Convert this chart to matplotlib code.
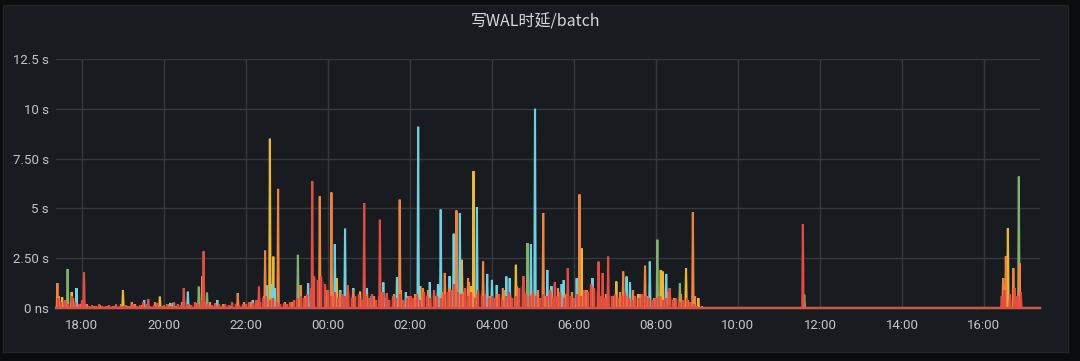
import matplotlib
matplotlib.use("Agg")
import matplotlib.pyplot as plt
from matplotlib.patches import Rectangle
import numpy as np

plt.rcParams['font.family'] = ['Roboto', 'Noto Sans CJK SC', 'DejaVu Sans']

TITLE = "写WAL时延/batch"
WINDOW_START = "17:22"   # window is 24 h long
Y_TICKS = [0, 2.5, 5, 7.5, 10, 12.5]
Y_TICK_LABELS = ["0 ns", "2.50 s", "5 s", "7.50 s", "10 s", "12.5 s"]

# spikes per series: (time, seconds)
green_spikes = [("17:39", 1.95), ("20:51", 1.07), ("21:03", 0.77), ("23:16", 2.67),
                ("04:52", 3.26), ("06:19", 0.9), ("08:02", 3.43), ("08:35", 1.24),
                ("11:37", 0.67), ("16:51", 6.6)]
yellow_spikes = [("17:31", 0.55), ("17:45", 0.8), ("19:00", 0.9), ("19:54", 0.57),
                 ("22:35", 8.5), ("22:40", 2.58), ("00:13", 1.5), ("00:47", 0.82),
                 ("02:15", 1.1), ("03:16", 2.42), ("03:29", 1.1), ("03:33", 6.87),
                 ("04:35", 2.17), ("06:11", 3.0), ("07:02", 1.33), ("07:34", 0.7),
                 ("08:07", 1.91), ("08:10", 1.83), ("08:44", 2.0), ("09:02", 0.5),
                 ("16:35", 4.0)]
cyan_spikes = [("17:52", 1.0), ("19:31", 0.4), ("20:09", 0.25), ("20:13", 0.25),
               ("20:35", 0.82), ("21:18", 0.4), ("22:10", 0.4), ("22:30", 1.15),
               ("22:38", 1.2), ("22:42", 1.0), ("23:31", 1.24), ("23:57", 0.9),
               ("00:10", 3.2), ("00:18", 0.9), ("00:25", 3.98), ("00:37", 1.0),
               ("00:57", 1.0), ("01:04", 0.6), ("01:21", 1.28), ("01:41", 1.53),
               ("01:54", 0.8), ("02:12", 9.1), ("02:29", 1.3), ("02:41", 1.2),
               ("02:45", 4.94), ("02:58", 1.6), ("03:04", 3.73), ("03:13", 4.77),
               ("03:38", 5.07), ("03:53", 1.71), ("04:00", 1.41), ("04:07", 1.15),
               ("04:21", 1.58), ("04:26", 1.5), ("04:57", 3.2), ("05:03", 10.0),
               ("05:21", 1.91), ("05:27", 1.1), ("05:42", 1.2), ("05:45", 1.4),
               ("06:04", 1.5), ("06:27", 1.5), ("07:17", 1.58), ("07:22", 1.3),
               ("07:51", 2.33), ("08:15", 1.71)]
orange_spikes = [("17:24", 1.25), ("19:13", 0.3), ("20:56", 1.58), ("21:48", 0.75),
                 ("22:28", 2.88), ("22:47", 5.98), ("23:20", 1.15), ("23:48", 5.6),
                 ("00:05", 5.8), ("01:45", 5.44), ("02:19", 1.0), ("02:51", 1.76),
                 ("03:08", 4.9), ("03:25", 1.5), ("03:47", 2.33), ("04:16", 1.0),
                 ("05:15", 4.77), ("06:08", 5.7), ("07:12", 1.83), ("07:44", 2.12),
                 ("08:54", 4.8), ("16:28", 1.5), ("16:32", 2.6), ("16:43", 2.0),
                 ("16:52", 2.25)]
red_spikes = [("18:03", 1.78), ("19:37", 0.45), ("20:29", 1.0), ("20:58", 2.84),
              ("22:19", 1.07), ("23:37", 6.36), ("00:29", 1.15), ("00:53", 5.27),
              ("01:16", 4.43), ("01:26", 0.75), ("02:01", 0.6), ("04:46", 1.6),
              ("05:32", 1.3), ("05:51", 2.0), ("06:36", 2.33), ("06:42", 1.76),
              ("06:50", 2.58), ("08:20", 1.0), ("11:35", 4.21),
              ("16:26", 0.6), ("16:30", 0.9), ("16:38", 0.7), ("16:45", 1.0),
              ("16:49", 0.6), ("16:54", 0.8)]

# red background level, every 5 minutes from 17:25
red_base_start = "17:25"
red_base = [0.5, 0.3, 0.4, 0.2, 0.6, 0.3, 0.2,
            0.4, 0.2, 0.1, 0.15, 0.1, 0.2, 0.1, 0.1, 0.15, 0.1, 0.2, 0.1,
            0.1, 0.15, 0.1, 0.2, 0.1, 0.15, 0.3, 0.2, 0.1, 0.15, 0.25, 0.1,
            0.15, 0.2, 0.1, 0.3, 0.2, 0.15, 0.35, 0.2, 0.15, 0.3, 0.2, 0.4,
            0.3, 0.2, 0.15, 0.25, 0.2, 0.1, 0.2, 0.15, 0.3, 0.2, 0.15, 0.2,
            0.2, 0.3, 0.25, 0.4, 0.3, 0.5, 0.6, 0.4, 0.5, 0.3, 0.2, 0.25,
            0.2, 0.3, 0.4, 0.5, 0.6, 0.5, 0.7, 1.0, 1.6, 1.4, 1.6, 1.2,
            0.9, 0.6, 0.8, 0.5, 0.7, 0.6, 0.9, 0.5, 0.6, 0.7, 0.4, 0.6,
            0.5, 0.7, 0.4, 0.6, 0.8, 0.5, 0.4, 0.6, 0.5, 0.7, 0.4, 0.5,
            0.6, 0.5, 0.7, 0.4, 0.8, 0.6, 0.5, 0.9, 0.6, 0.5, 0.7, 0.8,
            0.9, 1.2, 0.8, 0.7, 1.0, 0.6, 0.8, 0.5, 0.9, 0.6, 0.7, 0.5,
            0.6, 0.5, 0.7, 0.4, 0.6, 0.8, 0.5, 0.6, 1.0, 1.2, 0.7, 0.6,
            0.8, 0.6, 0.5, 0.7, 0.6, 0.9, 0.5, 0.6, 0.8, 0.5, 0.7, 0.6,
            0.5, 0.7, 0.6, 0.9, 0.8, 1.2, 1.0, 0.7, 0.6, 0.5, 0.7, 0.6,
            0.7, 0.5, 0.6, 0.8, 0.5, 0.4, 0.6, 0.5, 0.7, 0.6, 0.5, 0.4,
            0.5, 0.6, 0.4, 0.5, 0.7, 0.4, 0.5, 0.3, 0.4, 0.5, 0.3, 0.2,
            0.1, 0.0]

# orange background level, every 10 minutes from 17:27
orange_base_start = "17:27"
orange_base = [0.6, 0.3, 0.5, 0.2,
               0.2, 0.1, 0.15, 0.1, 0.1, 0.2,
               0.1, 0.2, 0.15, 0.1, 0.3, 0.1,
               0.2, 0.1, 0.3, 0.2, 0.25, 0.4,
               0.3, 0.15, 0.2, 0.1, 0.2, 0.3,
               0.3, 0.4, 0.6, 0.5, 0.4, 0.3,
               0.3, 0.5, 0.6, 0.8, 1.2, 0.9,
               0.7, 0.8, 0.6, 0.9, 0.5, 0.7,
               0.6, 0.8, 0.5, 0.7, 0.9, 0.6,
               0.7, 0.5, 0.9, 0.6, 0.8, 1.0,
               1.1, 0.8, 1.3, 0.7, 0.9, 0.6,
               0.7, 0.9, 0.6, 1.1, 0.8, 0.7,
               0.9, 0.6, 0.8, 1.0, 0.7, 0.8,
               0.6, 0.9, 1.1, 0.8, 0.7, 0.6,
               0.8, 0.6, 0.9, 0.7, 0.6, 0.5,
               0.6, 0.8, 0.5, 0.7, 0.4, 0.6,
               0.1]

series = [("green", green_spikes, "#7EB26D"),
          ("yellow", yellow_spikes, "#EAB839"),
          ("cyan", cyan_spikes, "#6ED0E0"),
          ("orange", orange_spikes, "#EF843C"),
          ("red", red_spikes, "#E24D42")]

def to_min_raw(s):
    h, m = map(int, s.split(":"))
    return h * 60 + m

def to_min(s):
    v = to_min_raw(s)
    if v < to_min_raw(WINDOW_START):
        v += 1440
    return v

x0 = to_min_raw(WINDOW_START)
x1 = x0 + 1440
grid = np.arange(x0, x1 + 1)

fig = plt.figure(figsize=(10.8, 3.61), dpi=100)
fig.patch.set_facecolor("#0b0c0e")
panel = Rectangle((3/1080, 9/361), 1065/1080, 347/361,
                  transform=fig.transFigure, facecolor="#181b1f",
                  edgecolor="#222428", lw=1, zorder=-10)
fig.patches.append(panel)
ax = fig.add_axes([56/1080, 53/361, 984/1080, 249/361])
ax.set_zorder(1)
ax.set_facecolor("none")

for i, (name, spikes, color) in enumerate(series):
    vals = np.zeros_like(grid, dtype=float)
    for t, v in spikes:
        k = to_min(t) - x0
        vals[k] = max(vals[k], v)
    if name == "orange":
        bx = to_min(orange_base_start) + 10 * np.arange(len(orange_base))
        ax.vlines(bx, 0, orange_base, color=color, lw=1.6, zorder=2 + i)
    if name == "red":
        bx = to_min(red_base_start) + 5 * np.arange(len(red_base))
        ax.fill_between(bx, red_base, color=color, alpha=0.30, lw=0, zorder=2 + i)
        ax.vlines(bx, 0, red_base, color=color, lw=1.6, zorder=2 + i)
    ax.plot(grid, vals, color=color, lw=1.5, zorder=2 + i, clip_on=False,
            solid_joinstyle="miter")

ax.set_xlim(x0, x1)
ax.set_ylim(0, 12.5)
ax.set_yticks(Y_TICKS)
ax.set_yticklabels(Y_TICK_LABELS)
xt = [m for m in range(x0, x1 + 1) if m % 120 == 0]
ax.set_xticks(xt)
ax.set_xticklabels([f"{(m // 60) % 24:02d}:00" for m in xt])
for s in ax.spines.values():
    s.set_visible(False)
ax.grid(True, color="#36383c", lw=1)
ax.set_axisbelow(True)
ax.tick_params(axis="both", length=0, colors="#c3c5c9", labelsize=9.5)
ax.tick_params(axis="y", pad=5)
ax.tick_params(axis="x", pad=8)

fig.text(535.5/1080, 1 - 22/361, TITLE, ha="center", va="center",
         color="#d8d9da", fontsize=11.5, family=["Noto Sans CJK SC", "DejaVu Sans"])

fig.savefig("out.png", dpi=100, facecolor=fig.get_facecolor())
